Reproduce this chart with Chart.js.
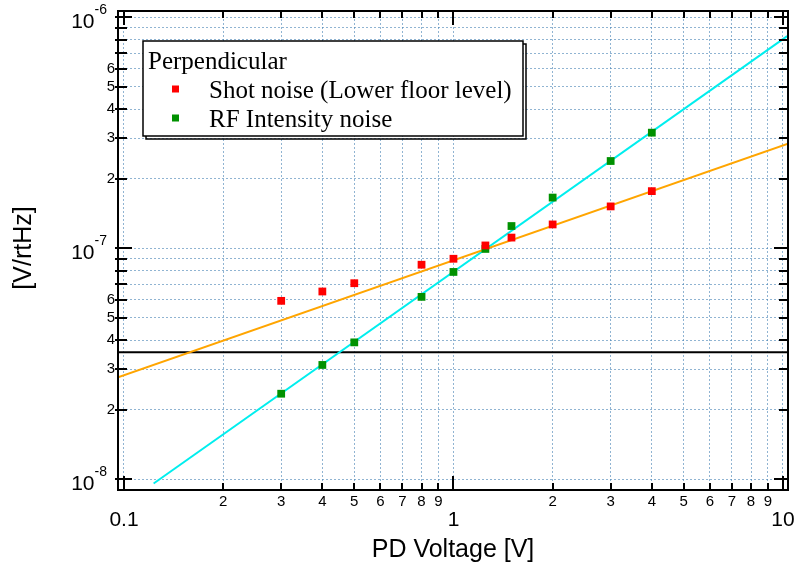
<!DOCTYPE html>
<html>
<head>
<meta charset="utf-8">
<title>Perpendicular noise</title>
<script src="https://cdn.jsdelivr.net/npm/chart.js@4.4.1/dist/chart.umd.min.js"></script>
<style>
    body { margin: 0; background: #fff; }
    canvas { display: block; }
</style>
</head>
<body>
<canvas id="grafikNoise" width="795" height="568"></canvas>
<script>
// Data titik ukur (PD Voltage [V] vs noise [V/rtHz])
const voltages = [0.3, 0.4, 0.5, 0.8, 1.0, 1.25, 1.5, 2, 3, 4];
const shotNoise = [5.93e-8, 6.51e-8, 7.07e-8, 8.50e-8, 9.02e-8, 1.03e-7, 1.114e-7, 1.27e-7, 1.52e-7, 1.77e-7];
const rfNoise = [2.35e-8, 3.13e-8, 3.92e-8, 6.17e-8, 7.91e-8, 9.95e-8, 1.25e-7, 1.66e-7, 2.39e-7, 3.17e-7];

// Garis fit (ujung-ujungnya saja)
const shotFitX = [0.0959, 10.36];
const shotFitY = [2.77e-8, 2.84e-7];
const rfFitX = [0.123, 10.3];
const rfFitY = [9.6e-9, 8.3e-7];
const floorX = [0.0959, 10.36];
const floorY = [3.55e-8, 3.55e-8];

// Rentang sumbu
const xRange = [0.0959, 10.36];
const yRange = [9.33e-9, 1.066e-6];

// Tick dan label sumbu
const xMajor = [0.1, 1, 10];
const xMajorLabels = ['0.1', '1', '10'];
const xMinor = [0.2, 0.3, 0.4, 0.5, 0.6, 0.7, 0.8, 0.9, 2, 3, 4, 5, 6, 7, 8, 9];
const xMinorLabels = ['2', '3', '4', '5', '6', '7', '8', '9', '2', '3', '4', '5', '6', '7', '8', '9'];
const yMajor = [1e-8, 1e-7, 1e-6];
const yMajorExp = ['-8', '-7', '-6'];
const yMinor = [2e-8, 3e-8, 4e-8, 5e-8, 6e-8, 7e-8, 8e-8, 9e-8, 2e-7, 3e-7, 4e-7, 5e-7, 6e-7, 7e-7, 8e-7, 9e-7];
const yMinorLabels = ['2', '3', '4', '5', '6', '', '', '', '2', '3', '4', '5', '6', '', '', ''];

const legendTitle = 'Perpendicular';
const seriesNames = ['Shot noise (Lower floor level)', 'RF Intensity noise'];
const seriesColors = ['rgb(255,0,0)', 'rgb(0,145,0)'];

function toPoints(xs, ys) {
    return xs.map(function (x, i) { return { x: x, y: ys[i] }; });
}

// Plugin untuk frame, tick ke dalam, label, judul dan legenda
const framePlugin = {
    id: 'framePlugin',
    afterDraw: function (chart) {
        const ctx = chart.ctx;
        const area = chart.chartArea;
        const sx = chart.scales.x;
        const sy = chart.scales.y;
        ctx.save();

        // Tick pada keempat sisi
        ctx.strokeStyle = '#000';
        ctx.lineWidth = 2;
        function tickX(v, len) {
            const px = Math.round(sx.getPixelForValue(v));
            ctx.beginPath();
            ctx.moveTo(px, area.bottom); ctx.lineTo(px, area.bottom - len);
            ctx.moveTo(px, area.top); ctx.lineTo(px, area.top + len);
            ctx.stroke();
        }
        function tickY(v, len) {
            const py = Math.round(sy.getPixelForValue(v));
            ctx.beginPath();
            ctx.moveTo(area.left - 3, py); ctx.lineTo(area.left + len, py);
            ctx.moveTo(area.right, py); ctx.lineTo(area.right - len, py);
            ctx.stroke();
        }
        xMinor.forEach(function (v) { tickX(v, 7); });
        xMajor.forEach(function (v) { tickX(v, 14); });
        yMinor.forEach(function (v) { tickY(v, 9); });
        yMajor.forEach(function (v) { tickY(v, 14); });

        // Frame
        ctx.strokeRect(area.left, area.top, area.right - area.left, area.bottom - area.top);

        // Label sumbu X
        ctx.fillStyle = '#000';
        ctx.textAlign = 'center';
        ctx.textBaseline = 'middle';
        ctx.font = '15px "Liberation Sans", Arial, sans-serif';
        xMinor.forEach(function (v, i) {
            ctx.fillText(xMinorLabels[i], sx.getPixelForValue(v), 502);
        });
        ctx.textBaseline = 'alphabetic';
        ctx.font = '21px "Liberation Sans", Arial, sans-serif';
        xMajor.forEach(function (v, i) {
            ctx.fillText(xMajorLabels[i], sx.getPixelForValue(v), 526);
        });

        // Label sumbu Y
        ctx.textAlign = 'right';
        ctx.textBaseline = 'middle';
        ctx.font = '15px "Liberation Sans", Arial, sans-serif';
        yMinor.forEach(function (v, i) {
            if (yMinorLabels[i]) ctx.fillText(yMinorLabels[i], 115, sy.getPixelForValue(v));
        });
        ctx.textBaseline = 'alphabetic';
        yMajor.forEach(function (v, i) {
            const py = sy.getPixelForValue(v);
            ctx.font = '14px "Liberation Sans", Arial, sans-serif';
            const wExp = ctx.measureText(yMajorExp[i]).width;
            ctx.fillText(yMajorExp[i], 107, py - 3);
            ctx.font = '21px "Liberation Sans", Arial, sans-serif';
            ctx.fillText('10', 107 - wExp, py + 11);
        });

        // Judul sumbu
        ctx.textAlign = 'center';
        ctx.font = '25px "Liberation Sans", Arial, sans-serif';
        ctx.fillText('PD Voltage [V]', (area.left + area.right) / 2, 557);
        ctx.save();
        ctx.translate(31, 248);
        ctx.rotate(-Math.PI / 2);
        ctx.fillText('[V/rtHz]', 0, 0);
        ctx.restore();

        // Legenda dengan bayangan
        const box = { x: 143, y: 41, w: 380, h: 95 };
        ctx.lineWidth = 1.5;
        ctx.strokeRect(box.x + 3, box.y + 3, box.w, box.h);
        ctx.fillStyle = '#fff';
        ctx.fillRect(box.x, box.y, box.w, box.h);
        ctx.strokeRect(box.x, box.y, box.w, box.h);
        ctx.fillStyle = '#000';
        ctx.textAlign = 'left';
        ctx.font = '25px "Liberation Serif", "Times New Roman", serif';
        ctx.fillText(legendTitle, 148, 69);
        seriesNames.forEach(function (name, i) {
            const cy = 89 + i * 29;
            ctx.fillStyle = seriesColors[i];
            ctx.fillRect(172, cy - 3.5, 7, 7);
            ctx.fillStyle = '#000';
            ctx.fillText(name, 209, cy + 9);
        });

        ctx.restore();
    }
};

document.addEventListener('DOMContentLoaded', function () {
    const ctx = document.getElementById('grafikNoise').getContext('2d');

    const gridColor = 'rgba(70,130,180,0.6)';

    const config = {
        type: 'scatter',
        data: {
            datasets: [
                {
                    label: seriesNames[0],
                    data: toPoints(voltages, shotNoise),
                    backgroundColor: seriesColors[0],
                    borderWidth: 0,
                    pointStyle: 'rect',
                    pointRadius: 5.5,
                },
                {
                    label: seriesNames[1],
                    data: toPoints(voltages, rfNoise),
                    backgroundColor: seriesColors[1],
                    borderWidth: 0,
                    pointStyle: 'rect',
                    pointRadius: 5.5,
                },
                {
                    label: 'Fit shot',
                    data: toPoints(shotFitX, shotFitY),
                    showLine: true,
                    borderColor: 'rgb(255,165,0)',
                    borderWidth: 2,
                    pointRadius: 0,
                },
                {
                    label: 'Fit RF',
                    data: toPoints(rfFitX, rfFitY),
                    showLine: true,
                    borderColor: 'rgb(0,238,238)',
                    borderWidth: 2,
                    pointRadius: 0,
                },
                {
                    label: 'Floor',
                    data: toPoints(floorX, floorY),
                    showLine: true,
                    borderColor: '#000',
                    borderWidth: 2,
                    pointRadius: 0,
                },
            ],
        },
        options: {
            responsive: false,
            animation: false,
            layout: {
                padding: { left: 118, right: 7, top: 11, bottom: 78 },
            },
            plugins: {
                legend: { display: false },
                tooltip: { enabled: false },
            },
            scales: {
                x: {
                    type: 'logarithmic',
                    min: xRange[0],
                    max: xRange[1],
                    afterBuildTicks: function (scale) {
                        scale.ticks = xMajor.concat(xMinor).map(function (v) { return { value: v }; });
                    },
                    afterFit: function (scale) { scale.height = 0; },
                    ticks: { display: false },
                    grid: { color: gridColor, lineWidth: 1, drawTicks: false },
                    border: { display: false, dash: [2, 2] },
                },
                y: {
                    type: 'logarithmic',
                    min: yRange[0],
                    max: yRange[1],
                    afterBuildTicks: function (scale) {
                        scale.ticks = yMajor.concat(yMinor).map(function (v) { return { value: v }; });
                    },
                    afterFit: function (scale) { scale.width = 0; },
                    ticks: { display: false },
                    grid: { color: gridColor, lineWidth: 1, drawTicks: false },
                    border: { display: false, dash: [2, 2] },
                },
            },
        },
        plugins: [framePlugin],
    };

    new Chart(ctx, config);
});
</script>
</body>
</html>
